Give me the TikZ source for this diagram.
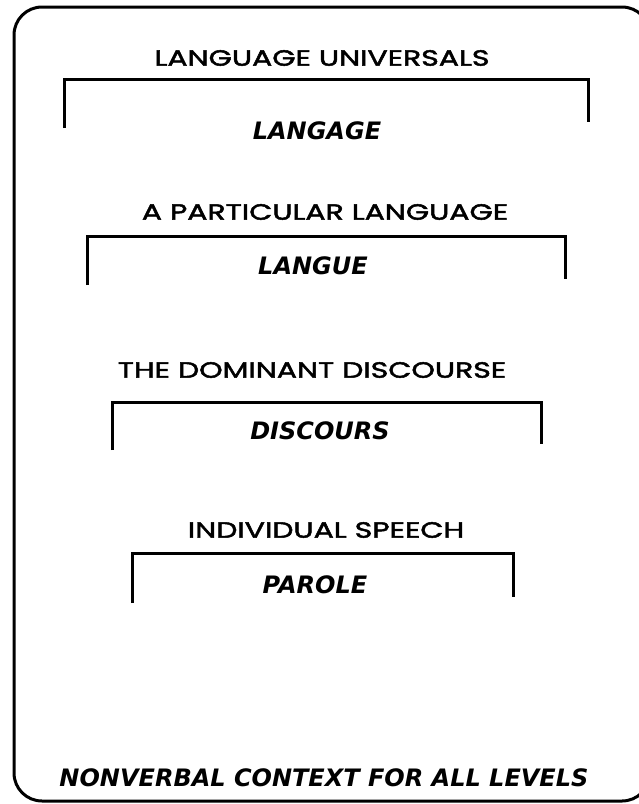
\documentclass[tikz,border=0pt]{standalone}
\usepackage{fontspec}
\newfontfamily\headfont{Poppins}[FakeStretch=1.36, FakeBold=2.2]
\newfontfamily\termfont{DejaVu Sans}
\tikzset{
  frame/.style={line width=3pt, rounded corners=28pt},
  bracket/.style={line width=3pt, line cap=butt, line join=miter},
  heading/.style={inner sep=0pt, font=\headfont\fontsize{22}{22}\selectfont},
  term/.style={inner sep=0pt, font=\termfont\bfseries\itshape\fontsize{24}{24}\selectfont},
}
\begin{document}
\begin{tikzpicture}[x=1pt, y=-1pt]
\useasboundingbox (0,0) rectangle (638,804);
\draw[frame] (14,7) rectangle (650,801);

% level 1
\node[heading] (h1) at (322,58) {LANGUAGE UNIVERSALS};
\coordinate (b1l) at (64,128);
\coordinate (b1r) at (588,122);
\draw[bracket] (b1l) |- (588,79) -- (b1r);
\node[term] (t1) at (317,131) {LANGAGE};

% level 2
\node[heading] (h2) at (325,212) {A PARTICULAR LANGUAGE};
\coordinate (b2l) at (87,285);
\coordinate (b2r) at (565,279);
\draw[bracket] (b2l) |- (565,236) -- (b2r);
\node[term] (t2) at (313,266) {LANGUE};

% level 3
\node[heading] (h3) at (312,370) {THE DOMINANT DISCOURSE};
\coordinate (b3l) at (112,450);
\coordinate (b3r) at (541,444);
\draw[bracket] (b3l) |- (541,402) -- (b3r);
\node[term] (t3) at (320,431) {DISCOURS};

% level 4
\node[heading] (h4) at (326,530) {INDIVIDUAL SPEECH};
\coordinate (b4l) at (132,603);
\coordinate (b4r) at (513,597);
\draw[bracket] (b4l) |- (513,553) -- (b4r);
\node[term] (t4) at (315,585) {PAROLE};

% context line at the foot
\node[term] (ctx) at (324,778) {NONVERBAL CONTEXT FOR ALL LEVELS};
\end{tikzpicture}
\end{document}
